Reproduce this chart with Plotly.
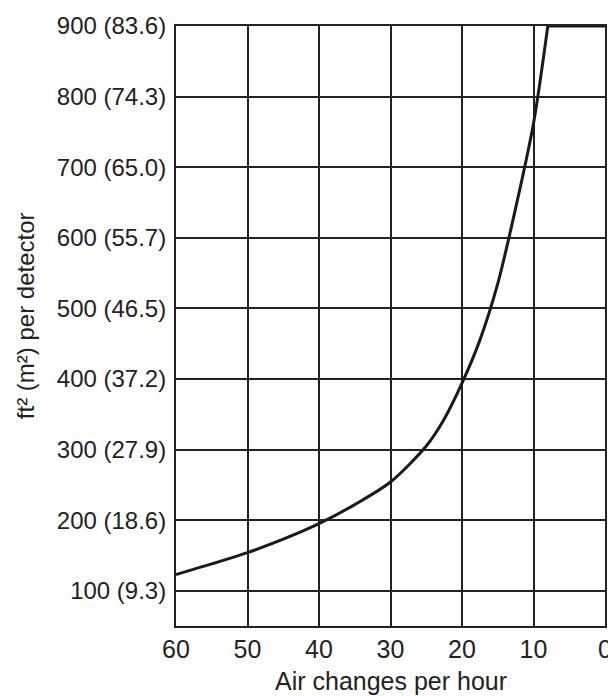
import plotly.graph_objects as go

# Curve (air changes per hour -> ft² per detector)
air_changes = [60, 55, 50, 45, 40, 35, 30, 25, 22.5, 20, 17.5, 15, 12.5, 10, 8]
area_ft2 = [123, 138, 154, 173, 195, 222, 254, 305, 343, 394, 455, 535, 642, 762, 900]
# flat cap at the top
cap_air_changes = [8, 0]
cap_area_ft2 = [900, 900]

y_tick_vals = [100, 200, 300, 400, 500, 600, 700, 800, 900]
y_tick_text = ["100 (9.3)", "200 (18.6)", "300 (27.9)", "400 (37.2)", "500 (46.5)",
               "600 (55.7)", "700 (65.0)", "800 (74.3)", "900 (83.6)"]
x_tick_vals = [60, 50, 40, 30, 20, 10, 0]

x_title = "Air changes per hour"
y_title = "ft² (m²) per detector"

fig = go.Figure()
fig.add_trace(go.Scatter(
    x=air_changes, y=area_ft2, mode="lines",
    line=dict(color="#1a1a1a", width=3, shape="spline", smoothing=0.8),
    hoverinfo="skip", showlegend=False,
))
fig.add_trace(go.Scatter(
    x=cap_air_changes, y=cap_area_ft2, mode="lines",
    line=dict(color="#1a1a1a", width=3),
    hoverinfo="skip", showlegend=False,
))

font = "Liberation Sans, Arial, Helvetica, sans-serif"
fig.update_layout(
    width=608, height=696,
    margin=dict(l=176, r=3, t=26, b=70),
    paper_bgcolor="white", plot_bgcolor="white",
    font=dict(family=font, color="#222222", size=24),
    xaxis=dict(
        range=[60, 0], tickvals=x_tick_vals, ticks="", showgrid=True,
        gridcolor="#222222", gridwidth=2, showline=True, linecolor="#222222",
        linewidth=2, mirror=True, zeroline=False, automargin=False,
        tickfont=dict(size=25), ticklabelstandoff=0, ticklabeloverflow="allow",
    ),
    yaxis=dict(
        range=[50, 900], tickvals=y_tick_vals, ticktext=y_tick_text, ticks="",
        showgrid=True, gridcolor="#222222", gridwidth=2, showline=True,
        linecolor="#222222", linewidth=2, mirror=True, zeroline=False,
        automargin=False, tickfont=dict(size=24), ticklabelstandoff=3,
        ticklabeloverflow="allow",
    ),
    annotations=[
        dict(text=x_title, xref="paper", yref="paper", x=0.5, y=-0.0917,
             xanchor="center", yanchor="middle", showarrow=False,
             font=dict(size=25, family=font, color="#222222")),
        dict(text=y_title, xref="paper", yref="paper", x=-0.352, y=0.518,
             xanchor="center", yanchor="middle", showarrow=False, textangle=-90,
             font=dict(size=24, family=font, color="#222222")),
    ],
)

fig.write_html(
    "out.html",
    config={"displayModeBar": False},
    post_script="document.body.style.margin='0';document.body.style.overflow='hidden';",
)
